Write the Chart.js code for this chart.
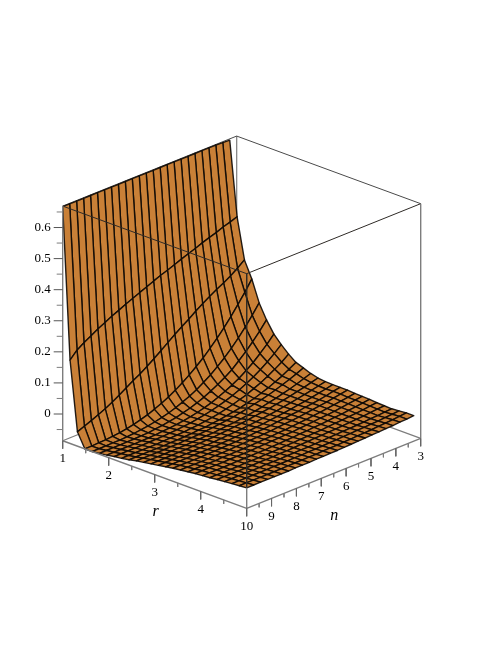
<!DOCTYPE html>
<html>
<head>
<meta charset="utf-8">
<style>
html, body { margin: 0; padding: 0; background: #fff; }
canvas { display: block; }
</style>
<script src="https://cdn.jsdelivr.net/npm/chart.js@4"></script>
</head>
<body>
<canvas id="chart" width="498" height="645"></canvas>
<script>
// grid of the surface (n = 3 itself has no surface)
const rValues = [1, 1.16, 1.32, 1.48, 1.64, 1.8, 1.96, 2.12, 2.28, 2.44, 2.6, 2.76, 2.92, 3.08, 3.24, 3.4, 3.56, 3.72, 3.88, 4.04, 4.2, 4.36, 4.52, 4.68, 4.84, 5];
const nValues = [10, 9.72, 9.44, 9.16, 8.88, 8.6, 8.32, 8.04, 7.76, 7.48, 7.2, 6.92, 6.64, 6.36, 6.08, 5.8, 5.52, 5.24, 4.96, 4.68, 4.4, 4.12, 3.84, 3.56, 3.28];

// one list per r value, in the order of nValues
const z00 = [.667,.667,.667,.667,.667,.667,.667,.667,.667,.667,.667,.667,.667,.667,.667,.667,.667,.667,.667,.667,.667,.667,.667,.666,.665];
const z01 = [.182,.205,.220,.233,.246,.257,.269,.279,.290,.299,.309,.318,.328,.337,.345,.354,.363,.371,.379,.388,.396,.403,.412,.419,.427];
const z02 = [-.040,-.031,-.022,-.012,-.002,.010,.024,.038,.052,.065,.080,.096,.113,.130,.147,.163,.178,.195,.210,.224,.238,.250,.263,.279,.297];
const z03 = [-.086,-.086,-.085,-.084,-.082,-.080,-.076,-.071,-.065,-.058,-.049,-.039,-.028,-.015,.000,.016,.034,.053,.075,.098,.123,.150,.180,.210,.244];
const z04 = [-.086,-.086,-.086,-.085,-.085,-.084,-.082,-.079,-.076,-.072,-.067,-.061,-.053,-.044,-.034,-.022,-.008,.007,.025,.044,.066,.090,.116,.145,.176];
const z05 = [-.083,-.083,-.083,-.083,-.082,-.082,-.081,-.080,-.077,-.075,-.071,-.067,-.061,-.055,-.047,-.038,-.027,-.015,-.001,.014,.034,.054,.077,.102,.130];
const z06 = [-.080,-.080,-.080,-.080,-.080,-.079,-.079,-.078,-.076,-.074,-.072,-.069,-.065,-.060,-.054,-.047,-.038,-.028,-.017,-.004,.011,.028,.048,.069,.093];
const z07 = [-.076,-.076,-.076,-.076,-.076,-.075,-.075,-.074,-.073,-.071,-.069,-.067,-.063,-.059,-.054,-.048,-.041,-.033,-.023,-.012,.000,.014,.030,.048,.068];
const z08 = [-.073,-.073,-.073,-.073,-.073,-.073,-.072,-.071,-.070,-.069,-.067,-.065,-.062,-.059,-.055,-.050,-.044,-.037,-.030,-.020,-.010,.002,.015,.029,.046];
const z09 = [-.069,-.069,-.069,-.069,-.069,-.069,-.068,-.068,-.067,-.066,-.064,-.063,-.060,-.058,-.054,-.050,-.046,-.040,-.034,-.026,-.018,-.008,.002,.015,.028];
const z10 = [-.064,-.064,-.064,-.064,-.064,-.063,-.063,-.062,-.061,-.060,-.058,-.056,-.054,-.051,-.048,-.044,-.039,-.034,-.029,-.023,-.016,-.008,.000,.009,.019];
const z11 = [-.060,-.060,-.060,-.060,-.060,-.059,-.059,-.058,-.057,-.056,-.055,-.053,-.051,-.049,-.046,-.043,-.039,-.035,-.030,-.025,-.019,-.013,-.006,.002,.010];
const z12 = [-.056,-.056,-.056,-.056,-.055,-.055,-.054,-.053,-.052,-.051,-.049,-.047,-.045,-.043,-.040,-.037,-.034,-.031,-.027,-.023,-.018,-.013,-.008,-.002,.004];
const z13 = [-.052,-.052,-.052,-.052,-.051,-.051,-.050,-.050,-.049,-.047,-.046,-.044,-.043,-.041,-.038,-.036,-.033,-.030,-.026,-.022,-.018,-.014,-.009,-.004,.001];
const z14 = [-.048,-.048,-.048,-.048,-.047,-.047,-.047,-.046,-.045,-.044,-.043,-.041,-.040,-.038,-.036,-.033,-.031,-.028,-.025,-.021,-.018,-.014,-.009,-.005,.000];
const z15 = [-.044,-.044,-.044,-.044,-.044,-.043,-.043,-.042,-.041,-.040,-.039,-.038,-.036,-.035,-.033,-.030,-.028,-.025,-.023,-.019,-.016,-.013,-.009,-.004,.000];
const z16 = [-.041,-.041,-.041,-.041,-.041,-.040,-.040,-.039,-.038,-.037,-.036,-.035,-.034,-.032,-.030,-.028,-.026,-.024,-.021,-.018,-.015,-.012,-.008,-.004,.000];
const z17 = [-.038,-.038,-.038,-.038,-.038,-.037,-.037,-.036,-.036,-.035,-.034,-.033,-.032,-.030,-.029,-.027,-.025,-.023,-.020,-.018,-.015,-.012,-.009,-.006,-.002];
const z18 = [-.035,-.035,-.035,-.035,-.035,-.034,-.034,-.034,-.033,-.032,-.031,-.030,-.029,-.028,-.027,-.025,-.023,-.021,-.019,-.017,-.015,-.012,-.009,-.006,-.003];
const z19 = [-.033,-.033,-.033,-.033,-.033,-.032,-.032,-.032,-.031,-.031,-.030,-.029,-.028,-.027,-.025,-.024,-.022,-.021,-.019,-.017,-.015,-.012,-.010,-.007,-.004];
const z20 = [-.031,-.031,-.031,-.031,-.031,-.030,-.030,-.030,-.029,-.029,-.028,-.027,-.026,-.025,-.024,-.023,-.022,-.020,-.018,-.017,-.015,-.013,-.011,-.008,-.006];
const z21 = [-.028,-.028,-.028,-.028,-.028,-.028,-.027,-.027,-.027,-.026,-.026,-.025,-.024,-.023,-.022,-.021,-.020,-.019,-.018,-.016,-.015,-.013,-.011,-.009,-.007];
const z22 = [-.026,-.026,-.026,-.026,-.026,-.026,-.025,-.025,-.025,-.024,-.024,-.023,-.023,-.022,-.021,-.020,-.019,-.018,-.017,-.016,-.015,-.013,-.012,-.010,-.008];
const z23 = [-.024,-.024,-.024,-.024,-.024,-.024,-.023,-.023,-.023,-.022,-.022,-.021,-.021,-.020,-.019,-.018,-.017,-.016,-.015,-.014,-.013,-.012,-.010,-.008,-.006];
const z24 = [-.022,-.022,-.022,-.022,-.022,-.022,-.022,-.021,-.021,-.021,-.020,-.020,-.019,-.018,-.018,-.017,-.016,-.015,-.014,-.013,-.011,-.010,-.008,-.006,-.004];
const z25 = [-.020,-.020,-.020,-.020,-.020,-.020,-.020,-.019,-.019,-.019,-.018,-.018,-.017,-.017,-.016,-.015,-.014,-.013,-.012,-.011,-.010,-.009,-.007,-.006,-.004];
const zRows = [z00,z01,z02,z03,z04,z05,z06,z07,z08,z09,z10,z11,z12,z13,z14,z15,z16,z17,z18,z19,z20,z21,z22,z23,z24,z25];

// axis ticks
const rTicks = [1, 2, 3, 4];
const rMinorTicks = [1.5, 2.5, 3.5, 4.5];
const nTicks = [3, 4, 5, 6, 7, 8, 9, 10];
const nMinorTicks = [3.5, 4.5, 5.5, 6.5, 7.5, 8.5, 9.5];
const zTicks = [0, 0.1, 0.2, 0.3, 0.4, 0.5, 0.6];
const zMinorTicks = [-0.05, 0.05, 0.15, 0.25, 0.35, 0.45, 0.55, 0.65];

const rMin = 1, rMax = 5, nMin = 3, nMax = 10, zMin = -0.086, zMax = 0.669;

// the box is drawn without perspective, so a plain linear projection is enough
function project(r, n, z) {
    const u = (r - rMin) / (rMax - rMin),
          v = (nMax - n) / (nMax - nMin);
    return {
        x: 62.7 + 184 * u + 174 * v,
        y: 414 + 67.6 * u - 70 * v - 310.8 * z
    };
}

function edges(list) {
    const out = [];
    list.forEach(e => {
        out.push(project(...e[0]), project(...e[1]), {x: NaN, y: NaN});
    });
    return out;
}

function tickMarks(points, len) {
    const out = [];
    points.forEach(p => {
        out.push(p, {x: p.x, y: p.y + len}, {x: NaN, y: NaN});
    });
    return out;
}

function lineSet(data, color, width, order) {
    return {
        data, order,
        showLine: true,
        borderColor: color,
        borderWidth: width,
        pointRadius: 0,
        fill: false,
        clip: false
    };
}

const surfacePoints = [];
zRows.forEach((row, i) => {
    row.forEach((z, j) => {
        surfacePoints.push(project(rValues[i], nValues[j], z));
    });
});

const backEdges = edges([
    [[rMin, nMin, zMin], [rMin, nMin, zMax]],
    [[rMin, nMax, zMin], [rMin, nMin, zMin]],
    [[rMin, nMin, zMin], [rMax, nMin, zMin]]
]);
const backTop = edges([
    [[rMin, nMax, zMax], [rMin, nMin, zMax]],
    [[rMin, nMin, zMax], [rMax, nMin, zMax]]
]);
const frontTop = edges([
    [[rMin, nMax, zMax], [rMax, nMax, zMax]],
    [[rMax, nMax, zMax], [rMax, nMin, zMax]],
    [[rMax, nMax, zMax], [rMax, nMax, z25[0]]]
]);
const axisLines = edges([
    [[rMin, nMax, zMin], [rMin, nMax, zMax]],
    [[rMax, nMin, zMin], [rMax, nMin, zMax]],
    [[rMax, nMax, zMin], [rMax, nMax, z25[0]]],
    [[rMin, nMax, zMin], [rMax, nMax, zMin]],
    [[rMax, nMax, zMin], [rMax, nMin, zMin]]
]);

const majorTicks = [
    ...tickMarks(rTicks.map(r => project(r, nMax, zMin)), 8),
    ...tickMarks(nTicks.map(n => project(rMax, n, zMin)), 8)
];
const minorTicks = [
    ...tickMarks(rMinorTicks.map(r => project(r, nMax, zMin)), 4),
    ...tickMarks(nMinorTicks.map(n => project(rMax, n, zMin)), 4)
];
const zMajor = [], zMinor = [];
zTicks.forEach(z => {
    const p = project(rMin, nMax, z);
    zMajor.push(p, {x: p.x - 9, y: p.y}, {x: NaN, y: NaN});
});
zMinorTicks.forEach(z => {
    const p = project(rMin, nMax, z);
    zMinor.push(p, {x: p.x - 6, y: p.y}, {x: NaN, y: NaN});
});

// Chart.js has no polygon fill, so the cells are painted from the dataset's own elements
const surfacePlugin = {
    id: 'surface',
    afterDatasetDraw(chart, args) {
        if (chart.data.datasets[args.index].label !== 'surface') return;
        const ctx = chart.ctx,
              pts = args.meta.data,
              cols = nValues.length;
        ctx.save();
        ctx.fillStyle = '#c98037';
        ctx.strokeStyle = 'rgba(12,8,4,0.9)';
        ctx.lineWidth = 1.4;
        ctx.lineJoin = 'round';
        for (let i = 0; i < rValues.length - 1; i++) {
            for (let j = cols - 2; j >= 0; j--) {
                const a = pts[i * cols + j],
                      b = pts[i * cols + j + 1],
                      c = pts[(i + 1) * cols + j + 1],
                      d = pts[(i + 1) * cols + j];
                ctx.beginPath();
                ctx.moveTo(a.x, a.y);
                ctx.lineTo(b.x, b.y);
                ctx.lineTo(c.x, c.y);
                ctx.lineTo(d.x, d.y);
                ctx.closePath();
                ctx.fill();
                ctx.stroke();
            }
        }
        ctx.restore();
    }
};

const labelPlugin = {
    id: 'labels',
    afterDraw(chart) {
        const ctx = chart.ctx,
              xs = chart.scales.x,
              ys = chart.scales.y;
        function put(text, p, dx, dy) {
            ctx.fillText(text, xs.getPixelForValue(p.x + dx), ys.getPixelForValue(p.y + dy));
        }
        ctx.save();
        ctx.fillStyle = '#000';
        ctx.textBaseline = 'middle';
        ctx.font = '13px "Liberation Serif"';
        ctx.textAlign = 'right';
        zTicks.forEach(z => put(String(z), project(rMin, nMax, z), -12, 0));
        ctx.textAlign = 'center';
        rTicks.forEach(r => put(String(r), project(r, nMax, zMin), 0, 18));
        nTicks.forEach(n => put(String(n), project(rMax, n, zMin), 0, 18));
        ctx.font = 'italic 16px "Liberation Serif"';
        put('r', project(3, nMax, zMin), 1, 37);
        put('n', project(rMax, 6.4, zMin), -2, 43);
        ctx.restore();
    }
};

new Chart(document.getElementById('chart'), {
    type: 'scatter',
    data: {
        datasets: [
            lineSet(backEdges, '#7d7d7d', 1.2, 6),
            lineSet(backTop, '#4a4a4a', 1, 5),
            {
                label: 'surface',
                data: surfacePoints,
                order: 4,
                showLine: false,
                pointRadius: 0,
                clip: false
            },
            lineSet(frontTop, '#2e2a26', 1, 3),
            lineSet(axisLines, '#7d7d7d', 1.4, 2),
            lineSet(zMinor, '#7d7d7d', 1, 1),
            lineSet(zMajor, '#555', 1, 1),
            lineSet(minorTicks, '#7d7d7d', 1, 1),
            lineSet(majorTicks, '#666', 1, 1)
        ]
    },
    options: {
        responsive: false,
        animation: false,
        events: [],
        layout: { padding: 0 },
        plugins: { legend: { display: false }, tooltip: { enabled: false } },
        scales: {
            x: { type: 'linear', display: false, min: 0, max: 498 },
            y: { type: 'linear', display: false, min: 0, max: 645, reverse: true }
        }
    },
    plugins: [surfacePlugin, labelPlugin]
});
</script>
</body>
</html>
